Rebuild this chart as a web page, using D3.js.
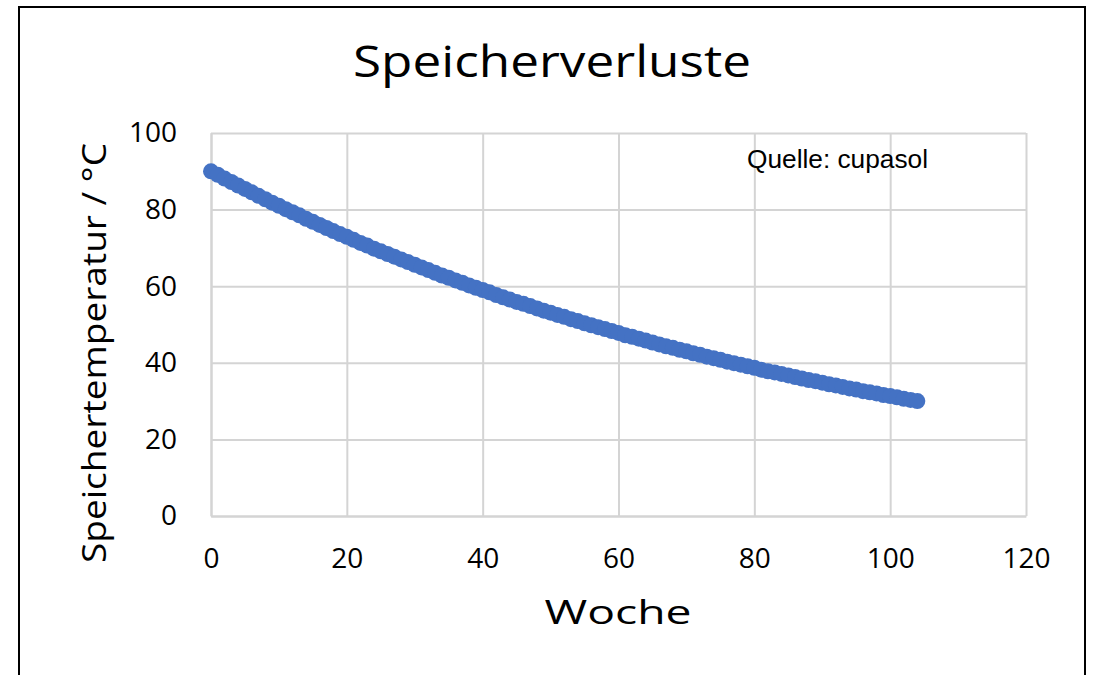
<!DOCTYPE html>
<html>
<head>
<meta charset="utf-8">
<script src="https://cdn.jsdelivr.net/npm/d3@7"></script>
<style>
  body { margin: 0; background: #fff; }
  svg { display: block; }
</style>
</head>
<body>
<div id="chart"></div>
<script>
// Speicherverluste: Speichertemperatur über die Wochen
const weeks = d3.range(0, 105);
const temps = [
  90.0, 89.1, 88.1, 87.2, 86.3, 85.4, 84.5, 83.6, 82.7, 81.8,
  81.0, 80.1, 79.3, 78.5, 77.6, 76.8, 76.0, 75.2, 74.4, 73.6,
  72.9, 72.1, 71.3, 70.6, 69.8, 69.1, 68.4, 67.7, 67.0, 66.3,
  65.6, 64.9, 64.2, 63.5, 62.8, 62.2, 61.5, 60.9, 60.2, 59.6,
  59.0, 58.4, 57.7, 57.1, 56.5, 55.9, 55.4, 54.8, 54.2, 53.6,
  53.1, 52.5, 52.0, 51.4, 50.9, 50.3, 49.8, 49.3, 48.8, 48.3,
  47.8, 47.2, 46.8, 46.3, 45.8, 45.3, 44.8, 44.3, 43.9, 43.4,
  43.0, 42.5, 42.1, 41.6, 41.2, 40.8, 40.3, 39.9, 39.5, 39.1,
  38.7, 38.2, 37.8, 37.5, 37.1, 36.7, 36.3, 35.9, 35.5, 35.2,
  34.8, 34.4, 34.1, 33.7, 33.3, 33.0, 32.6, 32.3, 32.0, 31.6,
  31.3, 31.0, 30.6, 30.3, 30.0
];
const xTicks = [0, 20, 40, 60, 80, 100, 120];
const yTicks = [0, 20, 40, 60, 80, 100];

const W = 1094, H = 675;
const margin = { top: 133, right: 68, bottom: 159, left: 211 };
const innerW = W - margin.left - margin.right;
const innerH = H - margin.top - margin.bottom;

const svg = d3.select('#chart').append('svg')
  .attr('width', W)
  .attr('height', H);

// Rahmen
svg.append('rect')
  .attr('x', 19).attr('y', 7)
  .attr('width', 1066).attr('height', 700)
  .attr('fill', 'none')
  .attr('stroke', '#000')
  .attr('stroke-width', 2);

const x = d3.scaleLinear().domain([0, 120]).range([0, innerW]);
const y = d3.scaleLinear().domain([0, 100]).range([innerH, 0]);

const g = svg.append('g')
  .attr('transform', 'translate(' + margin.left + ',' + margin.top + ')');

const gridColor = '#d4d4d4';

// Gitter
g.append('g')
  .call(d3.axisBottom(x).tickValues(xTicks).tickSize(-innerH).tickFormat(''))
  .attr('transform', 'translate(0,' + innerH + ')')
  .call(a => a.select('.domain').remove())
  .call(a => a.selectAll('line').attr('stroke', gridColor).attr('stroke-width', 2));

g.append('g')
  .call(d3.axisLeft(y).tickValues(yTicks).tickSize(-innerW).tickFormat(''))
  .call(a => a.select('.domain').remove())
  .call(a => a.selectAll('line').attr('stroke', gridColor).attr('stroke-width', 2));

// Achsenbeschriftung
const xAxis = g.append('g')
  .attr('transform', 'translate(0,' + innerH + ')')
  .call(d3.axisBottom(x).tickValues(xTicks).tickSize(0).tickPadding(32));
xAxis.select('.domain').attr('stroke', gridColor).attr('stroke-width', 2);
xAxis.selectAll('text')
  .attr('font-family', '"Open Sans", sans-serif')
  .attr('font-size', 28)
  .attr('fill', '#000');

const yAxis = g.append('g')
  .call(d3.axisLeft(y).tickValues(yTicks).tickSize(0).tickPadding(34));
yAxis.select('.domain').attr('stroke', gridColor).attr('stroke-width', 2);
yAxis.selectAll('text')
  .attr('font-family', '"Open Sans", sans-serif')
  .attr('font-size', 28)
  .attr('fill', '#000');

// Punkte
g.append('g').selectAll('circle')
  .data(weeks)
  .enter().append('circle')
  .attr('cx', (d, i) => x(weeks[i]))
  .attr('cy', (d, i) => y(temps[i]))
  .attr('r', 8)
  .attr('fill', '#4472c4');

// Titel
svg.append('text')
  .attr('x', 552).attr('y', 77)
  .attr('text-anchor', 'middle')
  .attr('font-family', '"Open Sans", sans-serif')
  .attr('font-size', 43)
  .attr('textLength', 398)
  .attr('lengthAdjust', 'spacingAndGlyphs')
  .text('Speicherverluste');

svg.append('text')
  .attr('x', 618).attr('y', 624)
  .attr('text-anchor', 'middle')
  .attr('font-family', '"Open Sans", sans-serif')
  .attr('font-size', 33)
  .attr('textLength', 147)
  .attr('lengthAdjust', 'spacingAndGlyphs')
  .text('Woche');

svg.append('text')
  .attr('transform', 'translate(106,353) rotate(-90)')
  .attr('text-anchor', 'middle')
  .attr('font-family', '"Open Sans", sans-serif')
  .attr('font-size', 33)
  .attr('textLength', 420)
  .attr('lengthAdjust', 'spacingAndGlyphs')
  .text('Speichertemperatur / °C');

svg.append('text')
  .attr('x', 747).attr('y', 168)
  .attr('font-family', '"Liberation Sans", Arial, sans-serif')
  .attr('font-size', 25)
  .attr('textLength', 181)
  .attr('lengthAdjust', 'spacingAndGlyphs')
  .text('Quelle: cupasol');
</script>
</body>
</html>
